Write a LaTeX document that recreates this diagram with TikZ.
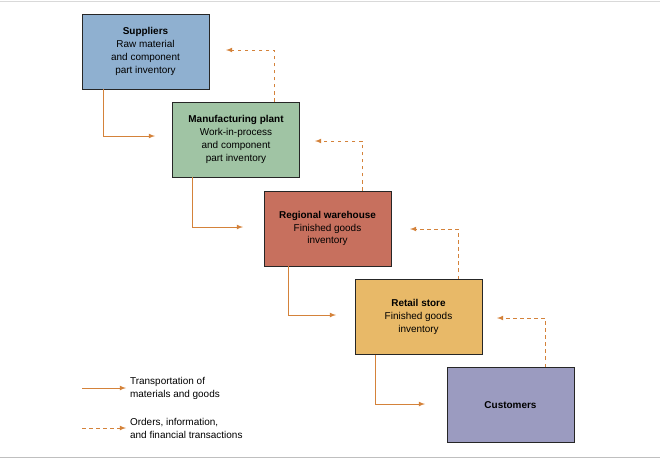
\documentclass[tikz,border=0pt]{standalone}
\usepackage{fontspec}
\setmainfont{Liberation Sans}
\usetikzlibrary{positioning}
\definecolor{flow}{HTML}{D4823A}
\tikzstyle{stage}=[draw=black!85,thick,minimum width=3.81cm,minimum height=2.25cm,align=center,font=\fontsize{8.5}{11}\selectfont]
\tikzstyle{goods}=[flow,thick,-latex]
\tikzstyle{orders}=[flow,thick,dashed,-latex]
\tikzstyle{legend}=[anchor=west,align=left,font=\fontsize{8.5}{11}\selectfont]

\begin{document}
\begin{tikzpicture}[x=0.03cm,y=-0.03cm]
    \useasboundingbox (0,0) rectangle (660,462);
    \draw[black!15] (0,1) -- (660,1);
    \draw[black!25] (0,457) -- (660,457);

    \node (sup) at (145.5,51.5) [stage,fill={rgb,255:red,143;green,176;blue,208}] {\textbf{Suppliers}\\Raw material\\and component\\part inventory};
    \node (mfg) at (236,139.5) [stage,fill={rgb,255:red,160;green,196;blue,164}] {\textbf{Manufacturing plant}\\Work-in-process\\and component\\part inventory};
    \node (reg) at (327.5,228.5) [stage,fill={rgb,255:red,199;green,112;blue,94}] {\textbf{Regional warehouse}\\Finished goods\\inventory};
    \node (ret) at (418.5,317) [stage,fill={rgb,255:red,232;green,185;blue,104}] {\textbf{Retail store}\\Finished goods\\inventory};
    \node (cus) at (510.5,405) [stage,fill={rgb,255:red,155;green,155;blue,192}] {\textbf{Customers}};

    \coordinate (g1) at (155,136);
    \coordinate (g2) at (243,227);
    \coordinate (g3) at (336,315);
    \coordinate (g4) at (425,404);
    \draw[goods] (sup.south west -| 103,0) |- (g1);
    \draw[goods] (mfg.south west -| 192,0) |- (g2);
    \draw[goods] (reg.south west -| 288,0) |- (g3);
    \draw[goods] (ret.south west -| 375,0) |- (g4);

    \coordinate (o1) at (226,50);
    \coordinate (o2) at (315,141);
    \coordinate (o3) at (410,229);
    \coordinate (o4) at (497,318);
    \draw[orders] (mfg.north west -| 274,0) |- (o1);
    \draw[orders] (reg.north west -| 362,0) |- (o2);
    \draw[orders] (ret.north west -| 458,0) |- (o3);
    \draw[orders] (cus.north west -| 545,0) |- (o4);

    % legend
    \coordinate (l1) at (82,388);
    \coordinate (l2) at (82,428);
    \node (t1) at (126,388) [legend] {Transportation of\\materials and goods};
    \node (t2) at (126,428) [legend] {Orders, information,\\and financial transactions};
    \draw[goods] (l1) -- (t1.west);
    \draw[orders] (l2) -- (t2.west);
\end{tikzpicture}
\end{document}
